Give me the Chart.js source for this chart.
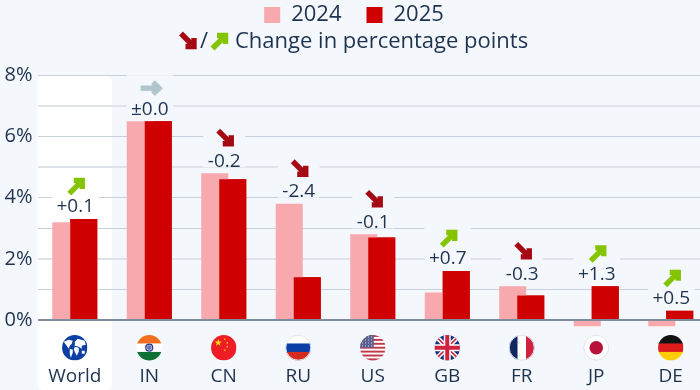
<!DOCTYPE html>
<html>
<head>
<meta charset="utf-8">
<style>
  html, body { margin: 0; padding: 0; width: 700px; height: 390px; overflow: hidden; background: #f4f7fb; }
  canvas { display: block; position: absolute; left: 0; top: 0; }
</style>
<script src="https://cdn.jsdelivr.net/npm/chart.js@4"></script>
</head>
<body>
<canvas id="chart" width="708" height="390"></canvas>
<canvas id="icons" width="708" height="390"></canvas>
<script>
const categories = ["World", "IN", "CN", "RU", "US", "GB", "FR", "JP", "DE"];
const values2024 = [3.2, 6.5, 4.8, 3.8, 2.8, 0.9, 1.1, -0.2, -0.2];
const values2025 = [3.3, 6.5, 4.6, 1.4, 2.7, 1.6, 0.8, 1.1, 0.3];
const changeLabels = ["+0.1", "±0.0", "-0.2", "-2.4", "-0.1", "+0.7", "-0.3", "+1.3", "+0.5"];

const FONT = '"Open Sans", sans-serif';
const TEXT = "#1e3350";
const BG = "#f4f7fb";
const RED = "#a50a14", GREEN = "#84c400", GREY = "#b0c6cf";
// these gridlines sit between two pixel rows in the reference, so they look soft
const softLines = [7, 5, 2];

// arrow: dir -1 = down-right, 0 = right, 1 = up-right
function arrow(ctx, x, y, dir, color) {
  ctx.save();
  ctx.translate(x, y);
  ctx.rotate(dir === 1 ? 0 : dir === 0 ? Math.PI / 4 : Math.PI / 2);
  ctx.strokeStyle = color;
  ctx.lineWidth = 5.4;
  ctx.lineCap = "butt";
  ctx.lineJoin = "miter";
  ctx.beginPath();
  ctx.moveTo(-7.5, 7.5);
  ctx.lineTo(5, -5);
  ctx.stroke();
  ctx.beginPath();
  ctx.moveTo(-3, -5.5);
  ctx.lineTo(5.5, -5.5);
  ctx.lineTo(5.5, 3);
  ctx.stroke();
  ctx.restore();
}

function stripes(ctx, x, y, r, colors) {
  const h = 2 * r / colors.length;
  colors.forEach((c, i) => {
    ctx.fillStyle = c;
    ctx.fillRect(x - r, y - r + i * h, 2 * r, h + 0.5);
  });
}

function blob(ctx, x, y, points) {
  ctx.beginPath();
  points.forEach((p, i) => i ? ctx.lineTo(x + p[0], y + p[1]) : ctx.moveTo(x + p[0], y + p[1]));
  ctx.closePath();
  ctx.fill();
}

function star(ctx, x, y, r) {
  ctx.beginPath();
  for (let i = 0; i < 10; i++) {
    const a = -Math.PI / 2 + i * Math.PI / 5;
    const q = i % 2 ? r * 0.4 : r;
    ctx.lineTo(x + q * Math.cos(a), y + q * Math.sin(a));
  }
  ctx.closePath();
  ctx.fill();
}

const flags = {
  World(ctx, x, y, r) {
    ctx.fillStyle = "#0b3fa6";
    ctx.fillRect(x - r, y - r, 2 * r, 2 * r);
    ctx.fillStyle = "#fff";
    blob(ctx, x, y, [[-11, -6], [-6, -8], [-2, -7], [-3, -4], [-5, -2], [-6, 1], [-8, -2]]);
    blob(ctx, x, y, [[-5, 1], [-2, 2], [-2, 5], [-4, 10], [-5, 6]]);
    blob(ctx, x, y, [[0, -6], [3, -9], [10, -7], [11, -3], [7, -2], [7, 1], [4, -1], [0, -2]]);
    blob(ctx, x, y, [[0, -1], [4, 0], [4, 4], [2, 8], [1, 6], [-1, 2]]);
    blob(ctx, x, y, [[7, 3], [10, 3], [10, 6], [7, 6]]);
  },
  IN(ctx, x, y, r) {
    stripes(ctx, x, y, r, ["#f26f21", "#ffffff", "#0f7133"]);
    ctx.strokeStyle = "#2f3f8f";
    ctx.lineWidth = 1.4;
    ctx.beginPath();
    ctx.arc(x, y, 3.4, 0, 2 * Math.PI);
    ctx.stroke();
    ctx.fillStyle = "#6a74b0";
    ctx.beginPath();
    ctx.arc(x, y, 2.4, 0, 2 * Math.PI);
    ctx.fill();
  },
  CN(ctx, x, y, r) {
    ctx.fillStyle = "#ee1c25";
    ctx.fillRect(x - r, y - r, 2 * r, 2 * r);
    ctx.fillStyle = "#ffde00";
    star(ctx, x - 5.5, y - 5, 3.8);
    [[1, -8.5], [3.5, -5], [3.5, -1], [1, 2.5]].forEach(p => star(ctx, x + p[0], y + p[1], 1.3));
  },
  RU(ctx, x, y, r) {
    stripes(ctx, x, y, r, ["#ffffff", "#0b3fa6", "#d52b1e"]);
  },
  US(ctx, x, y, r) {
    const rows = [];
    for (let i = 0; i < 13; i++) rows.push(i % 2 ? "#ffffff" : "#c0394b");
    stripes(ctx, x, y, r, rows);
    ctx.fillStyle = "#5a5f8f";
    ctx.fillRect(x - r, y - r, r + 1, r);
    ctx.fillStyle = "#d8dbe8";
    for (let i = 0; i < 4; i++) for (let j = 0; j < 4; j++) ctx.fillRect(x - r + 2 + j * 3, y - r + 1.5 + i * 3, 1, 1);
  },
  GB(ctx, x, y, r) {
    ctx.fillStyle = "#10307a";
    ctx.fillRect(x - r, y - r, 2 * r, 2 * r);
    const line = (x1, y1, x2, y2, w, c) => {
      ctx.strokeStyle = c;
      ctx.lineWidth = w;
      ctx.beginPath();
      ctx.moveTo(x1, y1);
      ctx.lineTo(x2, y2);
      ctx.stroke();
    };
    line(x - r, y - r, x + r, y + r, 4.5, "#fff");
    line(x - r, y + r, x + r, y - r, 4.5, "#fff");
    line(x - r, y - r, x + r, y + r, 1.6, "#d0213e");
    line(x - r, y + r, x + r, y - r, 1.6, "#d0213e");
    line(x, y - r, x, y + r, 7, "#fff");
    line(x - r, y, x + r, y, 7, "#fff");
    line(x, y - r, x, y + r, 4, "#d0213e");
    line(x - r, y, x + r, y, 4, "#d0213e");
  },
  FR(ctx, x, y, r) {
    const w = 2 * r / 3;
    ["#10285e", "#ffffff", "#d0213e"].forEach((c, i) => {
      ctx.fillStyle = c;
      ctx.fillRect(x - r + i * w, y - r, w + 0.5, 2 * r);
    });
  },
  JP(ctx, x, y, r) {
    ctx.fillStyle = "#ffffff";
    ctx.fillRect(x - r, y - r, 2 * r, 2 * r);
    ctx.fillStyle = "#b8123a";
    ctx.beginPath();
    ctx.arc(x, y, 6.8, 0, 2 * Math.PI);
    ctx.fill();
  },
  DE(ctx, x, y, r) {
    stripes(ctx, x, y, r, ["#111111", "#dd1c1c", "#ffcc00"]);
  }
};

const extras = {
  id: "extras",
  beforeInit(chart) {
    // room under the legend for the arrow key line
    const fit = chart.legend.fit;
    chart.legend.fit = function () {
      fit.call(this);
      this.height = 96.3;
    };
  },
  beforeDraw(chart) {
    // white band behind the World column, under the gridlines
    const ctx = chart.ctx, x = chart.scales.x;
    const w = x.getPixelForValue(1) - x.getPixelForValue(0);
    ctx.save();
    ctx.fillStyle = "#ffffff";
    ctx.beginPath();
    ctx.roundRect(x.getPixelForValue(0) - w / 2, chart.chartArea.top, w, 390 - chart.chartArea.top, 6);
    ctx.fill();
    ctx.restore();
  },
  beforeDatasetsDraw(chart) {
    const ctx = chart.ctx, x = chart.scales.x, y = chart.scales.y;
    // reading a pixel back makes the canvas commit the gridlines before the rest is painted
    ctx.getImageData(0, 0, 1, 1);
    // boxes that interrupt the gridlines behind each label and arrow
    ctx.save();
    ctx.font = "19px " + FONT;
    categories.forEach((c, i) => {
      const top = y.getPixelForValue(Math.max(values2024[i], values2025[i], 0));
      const w = ctx.measureText(changeLabels[i]).width + 9;
      ctx.fillStyle = i === 0 ? "#ffffff" : BG;
      ctx.fillRect(x.getPixelForValue(i) - w / 2 + 0.5, top - 46, w, 40);
    });
    ctx.restore();
  },
  afterDatasetsDraw(chart) {
    const ctx = chart.ctx, x = chart.scales.x, y = chart.scales.y;
    // the 2025 bars overlap the 2024 bars
    chart.getDatasetMeta(1).controller.draw();

    ctx.save();
    ctx.font = "19px " + FONT;
    ctx.textAlign = "center";
    ctx.textBaseline = "middle";
    categories.forEach((c, i) => {
      const cx = x.getPixelForValue(i);
      const top = y.getPixelForValue(Math.max(values2024[i], values2025[i], 0));
      const ly = top - 13;
      ctx.fillStyle = TEXT;
      ctx.fillText(changeLabels[i], cx + 0.5, ly + 1);
      const change = parseFloat(changeLabels[i].replace("±", ""));
      const dir = change > 0 ? 1 : change < 0 ? -1 : 0;
      arrow(ctx, cx + 2, ly - (dir < 0 ? 22 : 20), dir, dir > 0 ? GREEN : dir < 0 ? RED : GREY);
    });
    ctx.restore();
  },
  afterDraw(chart) {
    // flags and the arrow key go on their own canvas above the chart
    const ctx = document.getElementById("icons").getContext("2d"), x = chart.scales.x;
    categories.forEach((c, i) => {
      const cx = x.getPixelForValue(i);
      ctx.save();
      ctx.beginPath();
      ctx.arc(cx, 347.7, 12.7, 0, 2 * Math.PI);
      ctx.clip();
      flags[c](ctx, cx, 347.7, 12.7);
      ctx.restore();
      if (c === "JP" || c === "RU" || c === "FR") {
        ctx.strokeStyle = "#dfe3e9";
        ctx.lineWidth = 1;
        ctx.beginPath();
        ctx.arc(cx, 347.7, 12.5, 0, 2 * Math.PI);
        ctx.stroke();
      }
    });

    arrow(ctx, 188.5, 41, -1, RED);
    arrow(ctx, 220, 41, 1, GREEN);
    ctx.fillStyle = TEXT;
    ctx.font = "22px " + FONT;
    ctx.textBaseline = "middle";
    ctx.textAlign = "center";
    ctx.fillText("/", 204, 42);
    ctx.textAlign = "left";
    ctx.fillText("Change in percentage points", 235, 42);
  }
};

new Chart(document.getElementById("chart"), {
  type: "bar",
  data: {
    labels: categories,
    datasets: [
      { label: "2024", data: values2024, backgroundColor: "#f7a9ae", borderWidth: 0 },
      { label: "2025", data: values2025, backgroundColor: "#cf0000", borderWidth: 0 }
    ]
  },
  options: {
    responsive: false,
    animation: false,
    barPercentage: 1.5,
    categoryPercentage: 0.483,
    layout: { padding: { top: -21, left: 0, right: 0, bottom: 0 } },
    plugins: {
      tooltip: { enabled: false },
      legend: {
        position: "top",
        labels: {
          boxWidth: 16,
          boxHeight: 16,
          padding: 25,
          color: TEXT,
          font: { family: FONT, size: 22 }
        }
      }
    },
    scales: {
      x: {
        grid: { display: false },
        border: { display: false },
        ticks: {
          padding: 7,
          color: TEXT,
          autoSkip: false,
          maxRotation: 0,
          font: { family: FONT, size: 19 }
        },
        afterFit(scale) { scale.height = 39.4; }
      },
      y: {
        min: -1,
        max: 8,
        border: { display: false },
        grid: {
          drawTicks: false,
          color: ctx => ctx.tick.value === 0 ? "#7f8c9a" : softLines.includes(ctx.tick.value) ? "#dfe3e9" : "#c8d0dc",
          lineWidth: ctx => ctx.tick.value === 0 || softLines.includes(ctx.tick.value) ? 2 : 1
        },
        ticks: {
          stepSize: 1,
          padding: 5,
          autoSkip: false,
          color: TEXT,
          font: { family: FONT, size: 20 },
          callback: v => v >= 0 && v % 2 === 0 ? v + "%" : ""
        },
        afterBuildTicks(scale) { scale.ticks = scale.ticks.filter(t => t.value >= 0); },
        afterFit(scale) { scale.width = 37.5; }
      }
    }
  },
  plugins: [extras]
});
</script>
</body>
</html>
